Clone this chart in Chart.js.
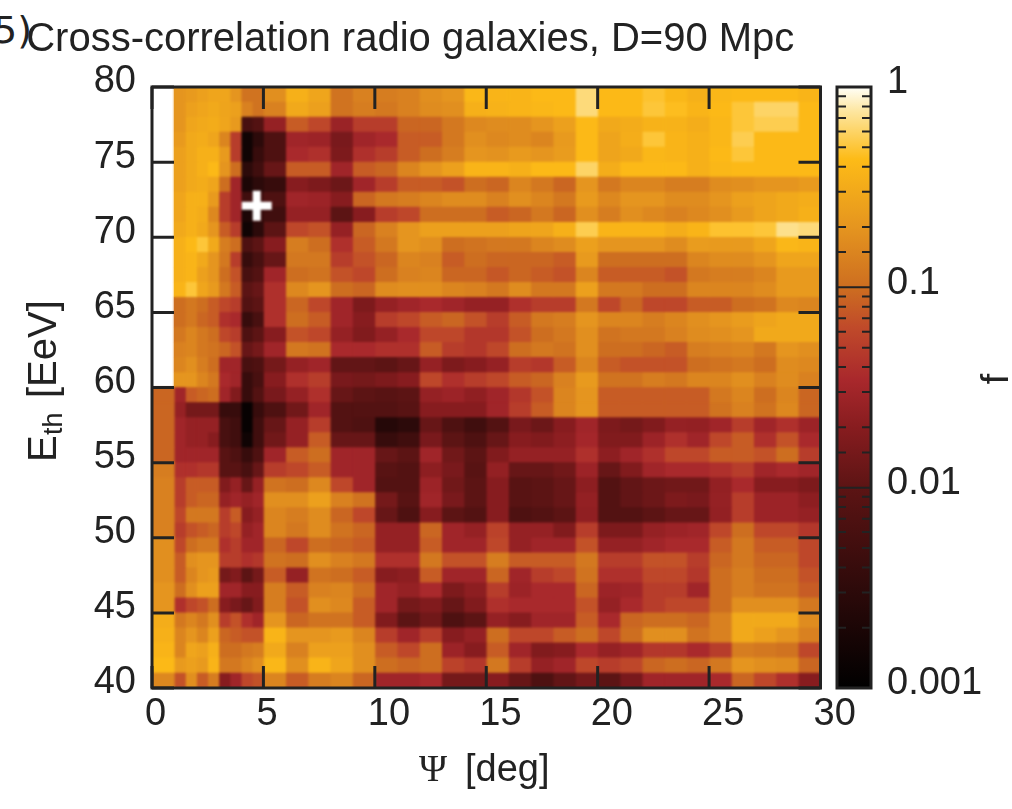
<!DOCTYPE html>
<html>
<head>
    <title>Cross-correlation radio galaxies</title>
    <meta http-equiv="content-type" content="text/html;charset=UTF-8">
    <script src="https://cdn.jsdelivr.net/npm/chart.js"></script>
    <style>
        html, body {
            margin: 0;
            padding: 0;
            background: white;
            overflow: hidden;
        }

        canvas {
            position: absolute;
            left: 0;
            top: 0;
        }

        #panelTag {
            position: absolute;
            left: -7px;
            top: 8px;
            font: 38px "DejaVu Sans";
            color: #222;
        }
    </style>
</head>
<body>
<div id="panelTag">5)</div>
<!-- 972 wide so the title centres over the plot, which is centred on x=486 -->
<canvas id="mapChart" width="972" height="809"></canvas>
<canvas id="barChart" width="1012" height="809"></canvas>
<script>
    // column edges in deg, bins are finer between 1 and 5
    const psiEdges = [0, 1, 1.5, 2, 2.5, 3, 3.5, 4, 4.5, 5, 6, 7, 8, 9, 10, 11, 12, 13, 14, 15, 16, 17, 18, 19, 20, 21, 22, 23, 24, 25, 26, 27, 28, 29, 30];
    // row centres in EeV, top row first
    const ethRows = [79.5, 78.5, 77.5, 76.5, 75.5, 74.5, 73.5, 72.5, 71.5, 70.5, 69.5, 68.5, 67.5, 66.5, 65.5, 64.5, 63.5, 62.5, 61.5, 60.5,
        59.5, 58.5, 57.5, 56.5, 55.5, 54.5, 53.5, 52.5, 51.5, 50.5, 49.5, 48.5, 47.5, 46.5, 45.5, 44.5, 43.5, 42.5, 41.5, 40.5];
    // f, one row per ethRows entry, one value per psi bin
    const fGrid = [
        [null, .2, .22, .25, .28, .28, .2, .11, .11, .18, .35, .28, .11, .14, .13, .14, .18, .2, .4, .38, .38, .42, .42, .65, .42, .42, .48, .4, .35, .4, .42, .42, .42, .38],
        [null, .2, .25, .28, .3, .27, .25, .14, .11, .14, .3, .25, .11, .13, .12, .14, .17, .18, .35, .36, .38, .4, .42, .65, .42, .42, .5, .45, .38, .42, .5, .6, .6, .42],
        [null, .2, .28, .3, .32, .28, .22, .006, .008, .025, .08, .06, .027, .05, .05, .09, .09, .12, .16, .17, .17, .2, .25, .42, .3, .32, .36, .36, .33, .4, .5, .55, .55, .42],
        [null, .22, .3, .32, .28, .15, .05, .0015, .003, .007, .03, .028, .016, .03, .035, .08, .08, .12, .18, .16, .17, .15, .22, .42, .27, .33, .5, .38, .35, .4, .55, .42, .42, .42],
        [null, .25, .3, .35, .35, .22, .05, .0015, .004, .007, .035, .04, .017, .04, .05, .08, .1, .13, .2, .19, .22, .2, .23, .42, .27, .3, .4, .38, .35, .42, .5, .42, .42, .42],
        [null, .25, .3, .35, .42, .2, .1, .003, .005, .012, .08, .08, .03, .08, .09, .15, .2, .25, .38, .38, .35, .42, .42, .6, .33, .42, .42, .42, .35, .4, .42, .42, .42, .42],
        [null, .25, .3, .32, .28, .1, .03, .002, .003, .004, .02, .017, .013, .03, .05, .08, .08, .07, .1, .09, .15, .12, .09, .2, .12, .15, .15, .13, .13, .17, .18, .2, .2, .22],
        [null, .28, .35, .35, .22, .05, .03, .005, .005, .007, .03, .028, .02, .09, .12, .13, .15, .17, .17, .14, .18, .15, .12, .22, .16, .2, .2, .17, .17, .2, .25, .27, .3, .33],
        [null, .28, .35, .32, .16, .05, .03, .002, .004, .005, .025, .025, .01, .02, .05, .06, .1, .1, .1, .08, .09, .12, .09, .18, .13, .18, .16, .14, .16, .18, .22, .27, .3, .35],
        [null, .3, .35, .3, .2, .08, .05, .0015, .003, .01, .06, .07, .025, .09, .14, .2, .25, .25, .25, .25, .27, .28, .35, .55, .38, .38, .38, .33, .38, .48, .48, .5, .7, .65],
        [null, .35, .42, .5, .3, .13, .1, .007, .01, .02, .13, .1, .04, .08, .12, .2, .18, .1, .11, .12, .12, .15, .17, .25, .2, .2, .2, .17, .23, .22, .22, .28, .4, .38],
        [null, .35, .38, .3, .2, .12, .05, .004, .006, .012, .12, .12, .05, .07, .09, .15, .14, .08, .1, .09, .09, .09, .08, .22, .1, .1, .1, .1, .15, .17, .17, .2, .28, .28],
        [null, .35, .38, .25, .2, .1, .07, .006, .008, .03, .1, .11, .07, .06, .1, .14, .15, .09, .09, .075, .09, .08, .07, .15, .08, .08, .08, .07, .12, .13, .13, .15, .22, .22],
        [null, .38, .5, .28, .22, .12, .08, .01, .012, .04, .16, .2, .1, .09, .17, .18, .18, .15, .14, .12, .17, .12, .12, .25, .12, .12, .1, .1, .15, .15, .15, .17, .22, .22],
        [null, .1, .12, .1, .08, .06, .05, .008, .01, .04, .09, .06, .03, .017, .025, .03, .035, .03, .025, .025, .04, .05, .05, .12, .06, .09, .06, .06, .08, .08, .1, .11, .16, .15],
        [null, .1, .12, .09, .08, .04, .035, .004, .006, .04, .1, .08, .03, .02, .05, .06, .08, .09, .07, .05, .08, .12, .13, .2, .15, .15, .13, .15, .18, .2, .23, .27, .3, .3],
        [null, .12, .15, .12, .1, .06, .05, .007, .01, .02, .07, .06, .025, .018, .025, .035, .06, .06, .045, .045, .07, .1, .12, .18, .11, .12, .12, .14, .17, .18, .2, .3, .3, .3],
        [null, .14, .15, .12, .11, .09, .07, .012, .015, .03, .12, .11, .035, .035, .04, .04, .08, .05, .045, .06, .1, .12, .11, .18, .1, .1, .09, .08, .13, .14, .15, .12, .2, .18],
        [null, .15, .18, .13, .1, .03, .03, .006, .007, .015, .025, .03, .011, .011, .01, .012, .025, .017, .02, .025, .05, .045, .08, .15, .08, .07, .07, .07, .1, .11, .12, .1, .17, .16],
        [null, .2, .2, .15, .12, .035, .03, .004, .006, .02, .04, .05, .016, .015, .017, .02, .06, .04, .05, .06, .08, .09, .14, .22, .11, .11, .13, .12, .15, .15, .18, .14, .17, .14],
        [.09, .03, .08, .09, .1, .03, .018, .004, .008, .016, .025, .04, .012, .01, .009, .01, .025, .028, .023, .03, .045, .07, .15, .2, .08, .08, .08, .08, .08, .12, .15, .1, .15, .09],
        [.09, .025, .015, .015, .015, .004, .004, .0012, .004, .007, .014, .03, .008, .008, .008, .009, .02, .02, .02, .03, .05, .08, .15, .2, .08, .08, .08, .08, .08, .11, .14, .11, .16, .09],
        [.09, .03, .025, .025, .025, .006, .005, .0012, .005, .012, .025, .05, .008, .007, .0025, .003, .012, .007, .005, .008, .016, .013, .02, .03, .017, .015, .018, .025, .024, .03, .05, .03, .04, .028],
        [.09, .03, .025, .025, .02, .006, .005, .0015, .005, .014, .025, .08, .012, .012, .004, .005, .016, .01, .007, .012, .02, .018, .022, .032, .018, .018, .028, .04, .03, .06, .08, .04, .07, .035],
        [.09, .03, .03, .03, .03, .009, .007, .004, .007, .03, .08, .1, .03, .03, .012, .01, .03, .014, .01, .018, .025, .025, .025, .04, .022, .03, .04, .06, .06, .08, .08, .07, .1, .05],
        [.13, .04, .04, .045, .045, .009, .009, .006, .012, .05, .06, .08, .03, .03, .009, .008, .022, .016, .009, .024, .012, .012, .014, .028, .012, .018, .03, .035, .035, .04, .05, .03, .035, .03],
        [.14, .05, .08, .08, .08, .018, .025, .012, .025, .11, .1, .16, .06, .03, .008, .008, .028, .014, .01, .02, .009, .01, .012, .022, .008, .011, .013, .014, .014, .024, .035, .02, .02, .017],
        [.14, .05, .08, .09, .09, .025, .03, .025, .03, .18, .18, .25, .14, .11, .015, .009, .03, .016, .01, .02, .009, .01, .012, .024, .008, .011, .013, .017, .016, .025, .05, .028, .028, .022],
        [.14, .06, .12, .12, .12, .05, .08, .02, .025, .15, .13, .17, .09, .06, .012, .007, .02, .01, .008, .02, .007, .008, .01, .023, .008, .008, .01, .012, .012, .024, .05, .028, .028, .025],
        [.14, .05, .07, .08, .09, .05, .06, .025, .03, .15, .12, .17, .11, .09, .025, .025, .09, .03, .025, .055, .025, .025, .018, .05, .017, .017, .025, .028, .03, .06, .1, .06, .06, .045],
        [.18, .06, .1, .12, .12, .04, .05, .03, .03, .09, .06, .1, .09, .08, .025, .025, .08, .03, .03, .06, .025, .03, .03, .07, .025, .025, .03, .035, .035, .08, .12, .08, .08, .06],
        [.18, .08, .18, .2, .2, .05, .05, .04, .045, .11, .1, .18, .14, .12, .04, .04, .12, .07, .07, .13, .08, .08, .08, .12, .05, .05, .07, .07, .05, .09, .12, .09, .09, .06],
        [.18, .08, .15, .2, .22, .015, .018, .01, .015, .08, .025, .11, .1, .08, .02, .022, .08, .03, .03, .09, .03, .05, .06, .11, .04, .04, .06, .06, .045, .1, .13, .1, .1, .07],
        [.2, .1, .18, .25, .25, .03, .03, .02, .02, .13, .08, .14, .15, .1, .03, .025, .035, .017, .022, .05, .028, .035, .035, .09, .028, .03, .05, .05, .03, .1, .13, .11, .11, .08],
        [.2, .04, .06, .07, .1, .02, .016, .012, .018, .13, .07, .18, .16, .08, .03, .015, .018, .012, .018, .04, .035, .035, .035, .07, .025, .035, .05, .06, .06, .1, .18, .18, .18, .12],
        [.33, .12, .15, .12, .18, .05, .07, .04, .03, .2, .09, .11, .11, .08, .018, .01, .014, .007, .01, .025, .02, .03, .03, .08, .035, .09, .1, .1, .09, .14, .3, .3, .3, .17],
        [.35, .15, .2, .15, .25, .09, .08, .07, .07, .38, .2, .2, .22, .15, .05, .03, .05, .02, .025, .1, .06, .06, .08, .1, .06, .1, .18, .18, .11, .14, .3, .25, .2, .14],
        [.38, .15, .28, .25, .35, .1, .1, .12, .13, .3, .14, .25, .25, .18, .08, .06, .1, .028, .02, .08, .03, .018, .02, .035, .025, .03, .045, .045, .035, .05, .13, .12, .11, .06],
        [.42, .22, .25, .22, .38, .12, .12, .15, .18, .4, .18, .38, .28, .18, .1, .09, .1, .055, .045, .12, .05, .025, .03, .06, .05, .06, .09, .1, .09, .12, .2, .18, .17, .09],
        [.16, .07, .18, .08, .13, .02, .03, .06, .07, .15, .08, .13, .15, .09, .03, .03, .035, .015, .015, .02, .012, .007, .011, .015, .01, .016, .03, .03, .03, .035, .09, .06, .04, .02]
    ];
    const bestFit = [{ x: 4.7, y: 72.1 }];
    const psiTicks = [0, 5, 10, 15, 20, 25, 30];
    const ethTicks = [40, 45, 50, 55, 60, 65, 70, 75, 80];
    const fTicks = [1, 0.1, 0.01, 0.001];
    // colour bar, position along log10 f and colour
    const paletteAt = [0, 0.333, 0.433, 0.513, 0.6, 0.667, 0.767, 0.88, 0.96, 1];
    const paletteRgb = [[0, 0, 0], [92, 20, 20], [135, 28, 31], [169, 40, 44], [192, 74, 42], [205, 110, 32], [229, 149, 31], [253, 187, 23], [253, 230, 160], [255, 255, 248]];

    const labelFont = '"Liberation Sans", Arial, sans-serif';
    const inkColor = '#222';

    function fColor(f) {
        const t = Math.min(1, Math.max(0, (Math.log10(f) + 3) / 3));
        let i = 0;
        while (i < paletteAt.length - 2 && t > paletteAt[i + 1]) i++;
        const k = (t - paletteAt[i]) / (paletteAt[i + 1] - paletteAt[i]);
        const rgb = paletteRgb[i].map((c, n) => Math.round(c + (paletteRgb[i + 1][n] - c) * k));
        return `rgb(${rgb[0]}, ${rgb[1]}, ${rgb[2]})`;
    }

    function rotatedText(ctx, text, x, y) {
        ctx.save();
        ctx.translate(x, y);
        ctx.rotate(-Math.PI / 2);
        ctx.fillText(text, 0, 0);
        ctx.restore();
    }

    // one horizontal floating bar per cell, one dataset per psi bin
    const cellDatasets = psiEdges.slice(0, -1).map((edge, c) => ({
        type: 'bar',
        indexAxis: 'y',
        xAxisID: 'x',
        yAxisID: 'rows',
        grouped: false,
        barPercentage: 1,
        categoryPercentage: 1,
        order: 2,
        data: fGrid.map(row => row[c] === null ? null : [edge, psiEdges[c + 1]]),
        backgroundColor: fGrid.map(row => row[c] === null ? 'white' : fColor(row[c]))
    }));

    // the source image is soft, so soften the cells a little as well
    const softenCells = {
        id: 'softenCells',
        afterDatasetsDraw(chart) {
            const ctx = chart.ctx, a = chart.chartArea;
            ctx.save();
            ctx.beginPath();
            ctx.rect(a.left, a.top, a.width, a.height);
            ctx.clip();
            ctx.filter = 'blur(1.3px)';
            ctx.drawImage(chart.canvas, 0, 0);
            ctx.restore();
        }
    };

    // gnuplot style frame with long inward ticks
    const frameTicks = {
        id: 'frameTicks',
        afterDraw(chart) {
            const ctx = chart.ctx, a = chart.chartArea;
            const x = chart.scales.x, y = chart.scales.y;
            ctx.save();
            ctx.strokeStyle = inkColor;
            ctx.lineWidth = 3;
            ctx.beginPath();
            psiTicks.forEach(v => {
                const p = x.getPixelForValue(v);
                ctx.moveTo(p, a.top); ctx.lineTo(p, a.top + 22);
                ctx.moveTo(p, a.bottom); ctx.lineTo(p, a.bottom - 22);
            });
            ethTicks.forEach(v => {
                const p = y.getPixelForValue(v);
                ctx.moveTo(a.left, p); ctx.lineTo(a.left + 22, p);
                ctx.moveTo(a.right, p); ctx.lineTo(a.right - 22, p);
            });
            ctx.stroke();
            ctx.strokeRect(a.left, a.top, a.width, a.height);
            // axis labels
            ctx.fillStyle = inkColor;
            ctx.textBaseline = 'middle';
            ctx.textAlign = 'left';
            ctx.font = '38px "Liberation Serif", serif';
            ctx.fillText('Ψ', 419, 771);
            ctx.font = '38px ' + labelFont;
            ctx.fillText('[deg]', 465, 771);
            ctx.save();
            ctx.translate(45, 462);
            ctx.rotate(-Math.PI / 2);
            ctx.font = '40px ' + labelFont;
            ctx.fillText('E', 0, 0);
            ctx.font = '27px ' + labelFont;
            ctx.fillText('th', 27, 10);
            ctx.font = '40px ' + labelFont;
            ctx.fillText('[EeV]', 64, 0);
            ctx.restore();
            ctx.restore();
        }
    };

    new Chart(document.getElementById('mapChart'), {
        type: 'bar',
        data: {
            labels: ethRows,
            datasets: cellDatasets.concat([{
                type: 'scatter',
                xAxisID: 'x',
                yAxisID: 'y',
                order: 1,
                data: bestFit,
                pointStyle: 'cross',
                pointRadius: 15,
                pointBorderWidth: 8,
                pointBorderColor: 'white'
            }])
        },
        options: {
            responsive: false,
            animation: false,
            layout: { padding: { left: 0, right: 151.5, top: 0, bottom: 0 } },
            plugins: {
                legend: { display: false },
                tooltip: { enabled: false },
                title: {
                    display: true,
                    text: 'Cross-correlation radio galaxies, D=90 Mpc',
                    color: inkColor,
                    font: { family: labelFont, size: 40, weight: 'normal', lineHeight: 1.2 },
                    padding: { top: 16, bottom: 23 }
                }
            },
            scales: {
                x: {
                    type: 'linear',
                    position: 'bottom',
                    min: 0,
                    max: 30,
                    offset: false,
                    grid: { display: false, offset: false },
                    border: { display: false },
                    afterFit(scale) { scale.height = 121; },
                    afterBuildTicks(scale) { scale.ticks = psiTicks.map(v => ({ value: v })); },
                    ticks: {
                        color: inkColor,
                        font: { family: labelFont, size: 38 },
                        align: 'start',
                        labelOffset: -7,
                        padding: -4,
                        maxRotation: 0
                    }
                },
                y: {
                    type: 'linear',
                    position: 'left',
                    min: 40,
                    max: 80,
                    grid: { display: false },
                    border: { display: false },
                    afterFit(scale) { scale.width = 152; },
                    afterBuildTicks(scale) { scale.ticks = ethTicks.map(v => ({ value: v })); },
                    ticks: {
                        color: inkColor,
                        font: { family: labelFont, size: 38 },
                        labelOffset: -5,
                        padding: 8
                    }
                },
                rows: {
                    type: 'category',
                    labels: ethRows,
                    position: 'left',
                    display: false,
                    offset: true
                }
            }
        },
        plugins: [softenCells, frameTicks]
    });

    // colour bar minor ticks and frame
    const barFrame = {
        id: 'barFrame',
        afterDraw(chart) {
            const ctx = chart.ctx, a = chart.chartArea, y = chart.scales.y;
            ctx.save();
            ctx.strokeStyle = inkColor;
            ctx.lineWidth = 2;
            ctx.beginPath();
            y.ticks.forEach(t => {
                const p = y.getPixelForValue(t.value);
                const major = fTicks.some(v => Math.abs(v - t.value) < v * 1e-6);
                const len = major ? a.width / 2 : 9;
                ctx.moveTo(a.left, p); ctx.lineTo(a.left + len, p);
                ctx.moveTo(a.right, p); ctx.lineTo(a.right - len, p);
            });
            ctx.stroke();
            ctx.lineWidth = 3;
            ctx.strokeRect(a.left, a.top, a.width, a.height);
            ctx.fillStyle = inkColor;
            ctx.font = '38px ' + labelFont;
            ctx.textAlign = 'center';
            ctx.textBaseline = 'middle';
            rotatedText(ctx, 'f', 998, 379);
            ctx.restore();
        }
    };

    new Chart(document.getElementById('barChart'), {
        type: 'bar',
        data: {
            labels: ['f'],
            datasets: [{
                data: [[fTicks[3], fTicks[0]]],
                barPercentage: 1,
                categoryPercentage: 1,
                backgroundColor(c) {
                    const a = c.chart.chartArea;
                    if (!a) return 'black';
                    const g = c.chart.ctx.createLinearGradient(0, a.bottom, 0, a.top);
                    paletteAt.forEach((t, i) => g.addColorStop(t, `rgb(${paletteRgb[i].join(',')})`));
                    return g;
                }
            }]
        },
        options: {
            responsive: false,
            animation: false,
            layout: { padding: { left: 837, right: 0, top: 87, bottom: 121 } },
            plugins: { legend: { display: false }, tooltip: { enabled: false } },
            scales: {
                x: { display: false },
                y: {
                    type: 'logarithmic',
                    position: 'right',
                    min: fTicks[3],
                    max: fTicks[0],
                    grid: { display: false },
                    border: { display: false },
                    afterFit(scale) { scale.width = 141; },
                    ticks: {
                        color: inkColor,
                        font: { family: labelFont, size: 38 },
                        autoSkip: false,
                        labelOffset: -4,
                        padding: 8,
                        callback(v) {
                            const hit = fTicks.find(t => Math.abs(t - v) < t * 1e-6);
                            return hit === undefined ? '' : String(hit);
                        }
                    }
                }
            }
        },
        plugins: [barFrame]
    });
</script>
</body>
</html>
